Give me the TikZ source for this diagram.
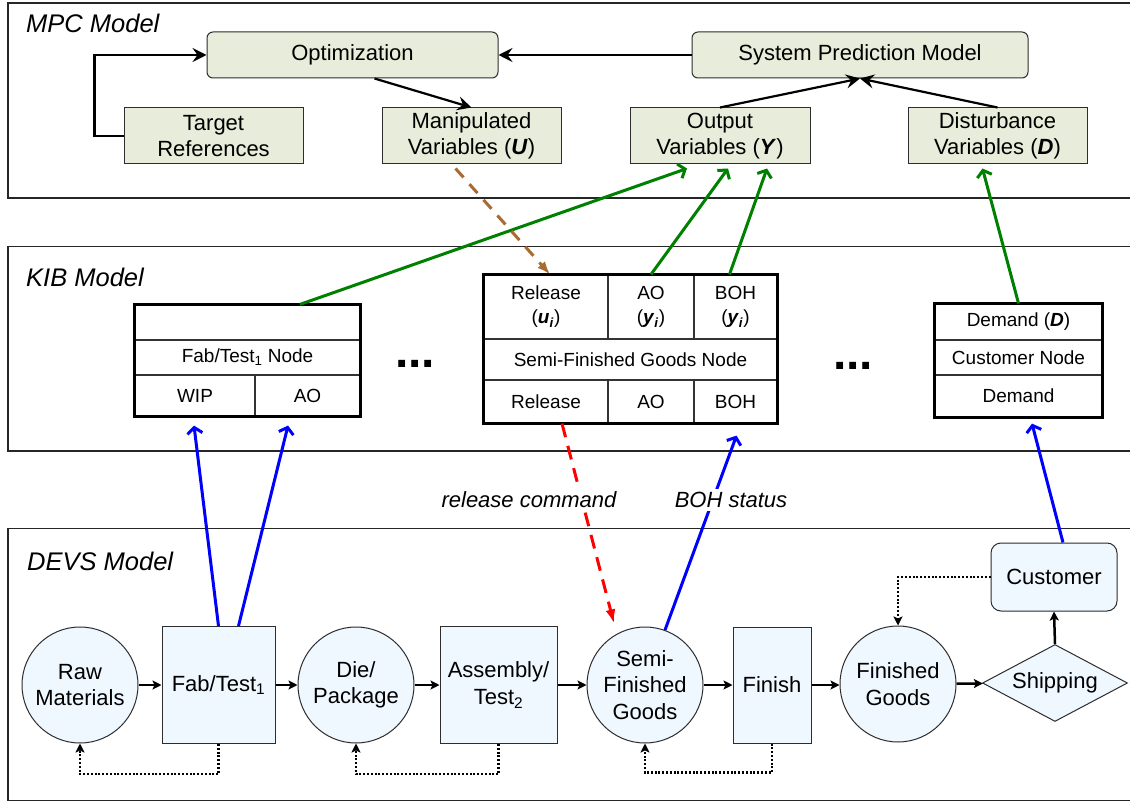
\documentclass[tikz,border=0pt]{standalone}
\usepackage{fontspec}
\setmainfont{Liberation Sans}
\usetikzlibrary{arrows.meta,shapes.geometric,calc}
\definecolor{mpcfill}{RGB}{232,236,218}
\definecolor{devsfill}{RGB}{239,247,255}
\definecolor{brownarr}{RGB}{168,108,50}
\definecolor{greenarr}{RGB}{0,128,0}
\definecolor{edgegray}{RGB}{45,45,45}
\begin{document}
\begin{tikzpicture}[x=1pt,y=-1pt,
  frame/.style={draw=black!85,line width=1.5pt},
  title/.style={font=\fontsize{25.5}{30}\selectfont\itshape,anchor=base west,inner sep=0},
  mpcround/.style={draw=edgegray,line width=1pt,fill=mpcfill,rounded corners=6pt,minimum height=46pt,inner sep=0,font=\fontsize{22}{26}\selectfont},
  mpcbox/.style={draw=edgegray,line width=1pt,fill=mpcfill,minimum height=56pt,minimum width=179pt,inner sep=0,align=center,font=\fontsize{22}{26}\selectfont},
  cell/.style={draw=black!80,line width=1.2pt,inner sep=0,align=center,font=\fontsize{19}{24}\selectfont},
  tableout/.style={draw=black,line width=3.5pt},
  devscirc/.style={circle,draw=edgegray,line width=1pt,fill=devsfill,minimum size=116pt,inner sep=0,align=center,font=\fontsize{22}{26.5}\selectfont},
  devsbox/.style={draw=edgegray,line width=1pt,fill=devsfill,inner sep=0,align=center,font=\fontsize{22}{26.5}\selectfont},
  mpcarrow/.style={draw=black,line width=2.2pt,-{Stealth[length=14pt,width=14pt,inset=5pt]}},
  devsarrow/.style={draw=black,line width=2.5pt,-{Stealth[length=9pt,width=9pt,inset=2pt]}},
  dotarrow/.style={draw=black,line width=2.4pt,dash pattern=on 2pt off 1.8pt,-{Stealth[length=9pt,width=9pt,inset=2pt]}},
  greenlink/.style={draw=greenarr,line width=3pt,-{Straight Barb[length=6pt,width=15pt]}},
  bluelink/.style={draw=blue,line width=3pt,-{Straight Barb[length=6pt,width=15pt]}},
  brownlink/.style={draw=brownarr,line width=3pt,dash pattern=on 12pt off 9pt,-{Latex[length=13pt,width=10pt]}},
  redlink/.style={draw=red,line width=3pt,dash pattern=on 14pt off 9pt,-{Latex[length=14pt,width=10pt]}},
  lbl/.style={fill=white,inner sep=3pt,font=\fontsize{22}{26}\selectfont\itshape},
  dots/.style={font=\fontsize{48}{48}\selectfont\bfseries,anchor=base,inner sep=0}
]
\clip (0,0) rectangle (1130,802);
\fill[white] (0,0) rectangle (1130,802);

% frames
\draw[frame] (8,3) rectangle (1145,198);
\draw[frame] (8,246.5) rectangle (1145,451);
\draw[frame] (8,528.5) rectangle (1145,800.5);
\node[title] (tmpc) at (26,33) {MPC Model};
\node[title] (tkib) at (26,287) {KIB Model};
\node[title] (tdevs) at (27,570) {DEVS Model};

% MPC
\node[mpcround,minimum width=291pt] (opt) at (352.5,55) {Optimization};
\node[mpcround,minimum width=336pt] (spm) at (860,55) {System Prediction Model};
\node[mpcbox] (tref) at (213.5,136) {Target\\References};
\node[mpcbox] (manip) at (471.5,136) {Manipulated\\Variables (\textbf{\textit{U}})};
\node[mpcbox,minimum width=180pt] (outv) at (720,136) {Output\\Variables (\textbf{\textit{Y}})};
\node[mpcbox] (dist) at (997.5,136) {Disturbance\\Variables (\textbf{\textit{D}})};

\draw[mpcarrow] (tref.west) -- ++(-29,0) |- (opt.west);
\draw[mpcarrow] ([xshift=22pt]opt.south) -- (manip.north);
\draw[mpcarrow] (spm.west) -- (opt.east);
\draw[mpcarrow] (outv.north) -- (spm.south);
\draw[mpcarrow] (dist.north) -- (spm.south);

% KIB tables
\node[cell,minimum width=225pt,minimum height=35pt] (fabtop) at (247.5,322.5) {};
\node[cell,minimum width=225pt,minimum height=35pt] (fabname) at (247.5,357.5) {Fab/Test\textsubscript{1} Node};
\node[cell,minimum width=120pt,minimum height=41pt] (fabwip) at (195,395.5) {WIP};
\node[cell,minimum width=105pt,minimum height=41pt] (fabao) at (307.5,395.5) {AO};
\draw[tableout] (fabtop.north west) rectangle (fabao.south east);

\node[cell,minimum width=124pt,minimum height=64pt] (semirel) at (546,307) {Release\\(\textbf{\textit{u}}\textsubscript{\textbf{\textit{i}}})};
\node[cell,minimum width=86pt,minimum height=64pt] (semiao) at (651,307) {AO\\(\textbf{\textit{y}}\textsubscript{\textbf{\textit{i}}})};
\node[cell,minimum width=83pt,minimum height=64pt] (semiboh) at (735.5,307) {BOH\\(\textbf{\textit{y}}\textsubscript{\textbf{\textit{i}}})};
\node[cell,minimum width=293pt,minimum height=41pt] (seminame) at (630.5,359.5) {Semi-Finished Goods Node};
\node[cell,minimum width=124pt,minimum height=43pt] (semirel2) at (546,401.5) {Release};
\node[cell,minimum width=86pt,minimum height=43pt] (semiao2) at (651,401.5) {AO};
\node[cell,minimum width=83pt,minimum height=43pt] (semiboh2) at (735.5,401.5) {BOH};
\draw[tableout] (semirel.north west) rectangle (semiboh2.south east);

\node[cell,minimum width=167pt,minimum height=36pt] (custd) at (1018.5,322) {Demand (\textbf{\textit{D}})};
\node[cell,minimum width=167pt,minimum height=35pt] (custname) at (1018.5,357.5) {Customer Node};
\node[cell,minimum width=167pt,minimum height=42pt] (custdem) at (1018.5,396) {Demand};
\draw[tableout] (custd.north west) rectangle (custdem.south east);

\node[dots] (dots1) at (415,367) {...};
\node[dots] (dots2) at (853,370) {...};

% DEVS
\node[devscirc] (raw) at (80,685) {Raw\\Materials};
\node[devsbox,minimum width=113pt,minimum height=117pt] (fab) at (218.5,685) {Fab/Test\textsubscript{1}};
\node[devscirc] (die) at (356,685) {Die/\\Package};
\node[devsbox,minimum width=117pt,minimum height=117pt] (asm) at (498.5,685) {Assembly/\\Test\textsubscript{2}};
\node[devscirc] (semi) at (645,685) {Semi-\\Finished\\Goods};
\node[devsbox,minimum width=78pt,minimum height=116pt] (fin) at (772,685) {Finish};
\node[devscirc] (fg) at (898,684) {Finished\\Goods};
\node[diamond,draw=edgegray,line width=1pt,fill=devsfill,aspect=1.88,minimum width=145pt,minimum height=77pt,inner sep=0,font=\fontsize{22}{26.5}\selectfont] (ship) at (1055,683) {Shipping};
\node[devsbox,rounded corners=10pt,minimum width=126pt,minimum height=68pt] (cust) at (1054,577) {Customer};

\draw[devsarrow] (raw) -- (fab);
\draw[devsarrow] (fab) -- (die);
\draw[devsarrow] (die) -- (asm);
\draw[devsarrow] (asm) -- (semi);
\draw[devsarrow] (semi) -- (fin);
\draw[devsarrow] (fin.east) -- (fin.east -| fg.west);
\draw[devsarrow] (fg) -- (ship);
\draw[devsarrow] (ship.north) -- (cust.south);

\draw[dotarrow] (fab.south) -- ++(0,30) -| (raw.south);
\draw[dotarrow] (asm.south) -- ++(0,30) -| (die.south);
\draw[dotarrow] (fin.south) -- ++(0,29) -| (semi.south);
\draw[dotarrow] (cust.west) -| (fg.north);

% inter-layer links
\draw[greenlink] ([xshift=52.5pt]fabtop.north) -- ([xshift=-33pt,yshift=-4pt]outv.south);
\draw[greenlink] (semiao.north) -- ([xshift=8pt,yshift=-4pt]outv.south);
\draw[greenlink] ([xshift=-6pt]semiboh.north) -- ([xshift=47pt,yshift=-4pt]outv.south);
\draw[greenlink] (custd.north) -- ([xshift=-15pt,yshift=-4pt]dist.south);
\draw[brownlink] ([xshift=-16pt,yshift=-4pt]manip.south) -- ([xshift=4pt]semirel.north);

\draw[bluelink] (fab.north) -- ([xshift=-1pt,yshift=-9pt]fabwip.south);
\draw[bluelink] ([xshift=20pt]fab.north) -- ([xshift=-19.5pt,yshift=-9pt]fabao.south);
\draw[bluelink] (semi.70) -- ([xshift=1pt,yshift=-12pt]semiboh2.south);
\draw[bluelink] ([xshift=9pt]cust.north) -- ([xshift=13.5pt,yshift=-6pt]custdem.south);
\draw[redlink] ([xshift=16pt]semirel2.south) -- ([yshift=12pt]semi.122);

\node[lbl] (relcmd) at (529,500) {release command};
\node[lbl] (bohst) at (731,500) {BOH status};
\end{tikzpicture}
\end{document}
